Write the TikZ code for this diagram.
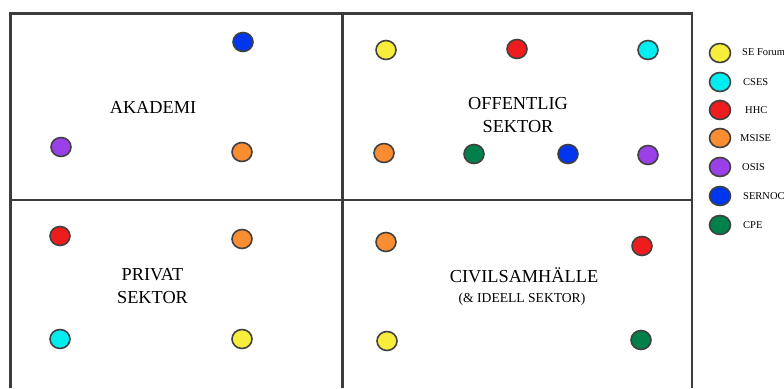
\documentclass[tikz,border=0pt]{standalone}
\usepackage{fontspec}
\setmainfont{Liberation Serif}
\usetikzlibrary{shapes.geometric}
\definecolor{cyel}{HTML}{F7EE3C}
\definecolor{ccya}{HTML}{00EEF0}
\definecolor{cred}{HTML}{EE1C1C}
\definecolor{cora}{HTML}{FA8C32}
\definecolor{cpur}{HTML}{9B40E8}
\definecolor{cblu}{HTML}{0037EE}
\definecolor{cgre}{HTML}{00804A}
\definecolor{frame}{HTML}{3C3C3C}
\tikzset{
  dot/.style={ellipse, draw=black!75, line width=1.6pt, minimum width=20pt, minimum height=19pt, inner sep=0pt},
  ldot/.style={dot, minimum width=21pt, minimum height=19pt},
  sector/.style={font=\fontsize{18.3}{23}\selectfont, align=center, inner sep=0pt},
  sub/.style={font=\fontsize{13.6}{16}\selectfont, inner sep=0pt},
  legtxt/.style={font=\fontsize{10.5}{12}\selectfont, anchor=west, inner sep=0pt},
  frameline/.style={draw=frame, line width=2.2pt}
}
\begin{document}
\begin{tikzpicture}[x=1pt,y=-1pt]
\useasboundingbox (0,0) rectangle (784,388);
% frame
\coordinate (bl) at (10.5,388);
\coordinate (tl) at (10.5,13.5);
\coordinate (tr) at (692,13.5);
\coordinate (br) at (692,388);
\coordinate (tm) at (342.5,13.5);
\coordinate (bm) at (342.5,388);
\coordinate (ml) at (10.5,200);
\coordinate (mr) at (692,200);
\draw[frameline, line join=miter] (bl) -- (tl) -- (tr) -- (br);
\draw[frameline] (tm) -- (bm);
\draw[frameline] (ml) -- (mr);
% labels
\node[sector] (akademi) at (153,107) {AKADEMI};
\node[sector] (offentlig) at (518,115) {OFFENTLIG\\SEKTOR};
\node[sector] (privat) at (152.5,286) {PRIVAT\\SEKTOR};
\node[sector] (civil) at (524,275) {CIVILSAMHÄLLE};
\node[sub] (ideell) at (522,299) {(\& IDEELL SEKTOR)};
% akademi dots
\node[dot, fill=cblu] (a1) at (243,42) {};
\node[dot, fill=cpur] (a2) at (61,147) {};
\node[dot, fill=cora] (a3) at (242,152) {};
% offentlig dots
\node[dot, fill=cyel] (o1) at (386,50) {};
\node[dot, fill=cred] (o2) at (517,49) {};
\node[dot, fill=ccya] (o3) at (648,50) {};
\node[dot, fill=cora] (o4) at (384,153) {};
\node[dot, fill=cgre] (o5) at (474,154) {};
\node[dot, fill=cblu] (o6) at (568,154) {};
\node[dot, fill=cpur] (o7) at (648,155) {};
% privat dots
\node[dot, fill=cred] (p1) at (60,236) {};
\node[dot, fill=cora] (p2) at (242,239) {};
\node[dot, fill=ccya] (p3) at (60,339) {};
\node[dot, fill=cyel] (p4) at (242,339) {};
% civil dots
\node[dot, fill=cora] (c1) at (386,242) {};
\node[dot, fill=cred] (c2) at (642,246) {};
\node[dot, fill=cyel] (c3) at (387,341) {};
\node[dot, fill=cgre] (c4) at (641,340) {};
% legend
\node[ldot, fill=cyel] (l1) at (720,53) {};
\node[ldot, fill=ccya] (l2) at (720,82) {};
\node[ldot, fill=cred] (l3) at (720,110) {};
\node[ldot, fill=cora] (l4) at (720,138) {};
\node[ldot, fill=cpur] (l5) at (720,167) {};
\node[ldot, fill=cblu] (l6) at (720,196) {};
\node[ldot, fill=cgre] (l7) at (720,225) {};
\node[legtxt] (t1) at (742,52) {SE Forum};
\node[legtxt] (t2) at (743,82) {CSES};
\node[legtxt] (t3) at (745,110) {HHC};
\node[legtxt] (t4) at (740,138) {MSISE};
\node[legtxt] (t5) at (742,167) {OSIS};
\node[legtxt] (t6) at (743,196) {SERNOC};
\node[legtxt] (t7) at (743,225) {CPE};
\end{tikzpicture}
\end{document}
